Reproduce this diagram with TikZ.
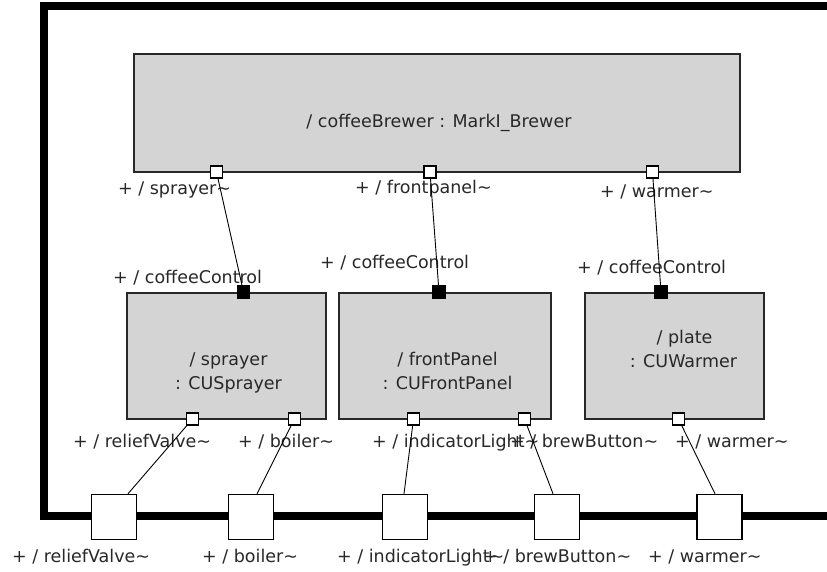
\documentclass[tikz,border=0pt]{standalone}
\usepackage{fontspec}
\setmainfont{DejaVu Sans}
\definecolor{partgray}{RGB}{212,212,212}
\definecolor{inkgray}{RGB}{40,40,40}
\begin{document}
\begin{tikzpicture}[x=1pt,y=-1pt,
  txt/.style={font=\fontsize{17.5}{21}\selectfont, text=inkgray, inner sep=0pt},
  lbl/.style={txt, anchor=base west},
  ctr/.style={txt, anchor=base},
  part/.style={draw=inkgray, line width=1.5pt, fill=partgray, inner sep=0pt},
  sport/.style={draw=black, line width=1.2pt, fill=white, minimum size=12pt, inner sep=0pt},
  fport/.style={draw=black, line width=1.2pt, fill=black, minimum size=12pt, inner sep=0pt},
  bport/.style={draw=black, line width=1.5pt, fill=white, minimum size=45pt, inner sep=0pt},
  conn/.style={draw=black, line width=0.9pt}]
\useasboundingbox (0,0) rectangle (827,572);
\fill[white] (0,0) rectangle (827,572);
% frame of the enclosing structure
\draw[line width=8pt, line join=miter] (830,6) -- (44,6) -- (44,516) -- (830,516);
% boundary ports
\node[bport] (bRV) at (114,517) {};
\node[bport] (bBo) at (251,517) {};
\node[bport] (bIL) at (405,517) {};
\node[bport] (bBB) at (557,517) {};
\node[bport] (bWa) at (719.5,517) {};
% parts
\node[part, minimum width=606pt, minimum height=118pt] (brewer) at (437,113) {};
\node[part, minimum width=199pt, minimum height=126pt] (sprayer) at (226.5,356) {};
\node[part, minimum width=212pt, minimum height=126pt] (front) at (445,356) {};
\node[part, minimum width=179pt, minimum height=126pt] (plate) at (674.5,356) {};
% part texts
\node[ctr] (tBrewer) at (439,128) {/ coffeeBrewer : MarkI\_Brewer};
\node[ctr] (tS1) at (228.5,365) {/ sprayer};
\node[ctr] (tS2) at (228.5,389) {: CUSprayer};
\node[ctr] (tF1) at (447.5,365) {/ frontPanel};
\node[ctr] (tF2) at (447.5,389) {: CUFrontPanel};
\node[ctr] (tP1) at (684.5,343) {/ plate};
\node[ctr] (tP2) at (683.5,367) {: CUWarmer};
% ports on coffeeBrewer
\node[sport] (tpS) at (216.5,172) {};
\node[sport] (tpF) at (430,172) {};
\node[sport] (tpW) at (652.5,172) {};
% coffeeControl ports
\node[fport] (fS) at (243.5,292) {};
\node[fport] (fF) at (439,292) {};
\node[fport] (fW) at (661,292) {};
% ports on the lower edges of the parts
\node[sport] (pRV) at (192.5,419) {};
\node[sport] (pBo) at (294.5,419) {};
\node[sport] (pIL) at (413.5,419) {};
\node[sport] (pBB) at (524.5,419) {};
\node[sport] (pWa) at (678.5,419) {};
% labels
\node[lbl] (lS) at (118,195) {+ / sprayer\textasciitilde};
\node[lbl] (lF) at (355,194) {+ / frontpanel\textasciitilde};
\node[lbl] (lW) at (600,197) {+ / warmer\textasciitilde};
\node[lbl] (lCS) at (113,283) {+ / coffeeControl};
\node[lbl] (lCF) at (320,268) {+ / coffeeControl};
\node[lbl] (lCW) at (577,273) {+ / coffeeControl};
\node[lbl] (lRV) at (73,447) {+ / reliefValve\textasciitilde};
\node[lbl] (lBo) at (238,447) {+ / boiler\textasciitilde};
\node[lbl] (lIL) at (372,447) {+ / indicatorLight\textasciitilde};
\node[lbl] (lBB) at (510,447) {+ / brewButton\textasciitilde};
\node[lbl] (lWa) at (675,447) {+ / warmer\textasciitilde};
\node[lbl] (bl1) at (12,562) {+ / reliefValve\textasciitilde};
\node[lbl] (bl2) at (202,562) {+ / boiler\textasciitilde};
\node[lbl] (bl3) at (337,562) {+ / indicatorLight\textasciitilde};
\node[lbl] (bl4) at (483,562) {+ / brewButton\textasciitilde};
\node[lbl] (bl5) at (648,562) {+ / warmer\textasciitilde};
% connectors
\draw[conn] (tpS) -- (fS);
\draw[conn] (tpF) -- (fF);
\draw[conn] (tpW) -- (fW);
\draw[conn] (pRV) -- ([xshift=14pt]bRV.north);
\draw[conn] (pBo) -- ([xshift=6pt]bBo.north);
\draw[conn] (pIL) -- ([xshift=-1pt]bIL.north);
\draw[conn] (pBB) -- ([xshift=-4pt]bBB.north);
\draw[conn] (pWa) -- ([xshift=-4.5pt]bWa.north);
\end{tikzpicture}
\end{document}
